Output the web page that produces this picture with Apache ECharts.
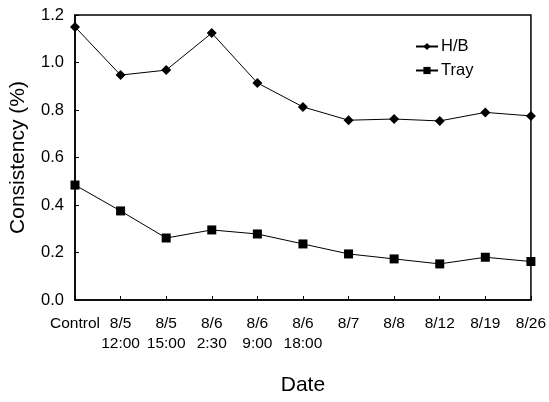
<!DOCTYPE html>
<html><head><meta charset="utf-8">
<script src="https://cdn.jsdelivr.net/npm/echarts@6/dist/echarts.min.js"></script>
<style>html,body{margin:0;padding:0;background:#fff}#c{width:549px;height:402px}</style>
</head><body><div id="c"></div>
<script>
const categories = ['Control','8/5\n12:00','8/5\n15:00','8/6\n2:30','8/6\n9:00','8/6\n18:00','8/7','8/8','8/12','8/19','8/26'];
const hbValues = [1.15,0.947,0.968,1.124,0.914,0.813,0.757,0.762,0.754,0.79,0.775];
const trayValues = [0.484,0.375,0.261,0.295,0.278,0.236,0.194,0.173,0.152,0.18,0.162];
const yTicks = ['0.0','0.2','0.4','0.6','0.8','1.0','1.2'];
const font = 'Liberation Sans, Arial, sans-serif';
const chart = echarts.init(document.getElementById('c'));
chart.setOption({
  animation:false,
  backgroundColor:'#fff',
  grid:{left:73,right:13,top:15,bottom:102,show:true,borderColor:'#000',borderWidth:1.5},
  legend:{
    left:410,top:33,orient:'vertical',itemGap:7,itemWidth:22,itemHeight:9,
    textStyle:{fontFamily:font,fontSize:16.5,color:'#000',padding:[0,0,0,-2]},
    data:['H/B','Tray']
  },
  xAxis:{
    type:'category',data:categories,boundaryGap:false,
    name:'Date',nameLocation:'middle',nameGap:75,
    nameTextStyle:{fontFamily:font,fontSize:21,color:'#000'},
    axisLine:{lineStyle:{color:'#000',width:1.5}},
    axisTick:{inside:true,length:4,lineStyle:{color:'#000'}},
    axisLabel:{fontFamily:font,fontSize:15.5,color:'#000',margin:14,lineHeight:20,interval:0,verticalAlign:'top'},
    splitLine:{show:false}
  },
  yAxis:{
    type:'value',min:0,max:1.2,interval:0.2,
    name:'Consistency (%)',nameLocation:'middle',nameGap:46,
    nameTextStyle:{fontFamily:font,fontSize:21,color:'#000'},
    axisLine:{show:true,lineStyle:{color:'#000',width:1.5}},
    axisTick:{show:true,inside:true,length:4,lineStyle:{color:'#000'}},
    axisLabel:{fontFamily:font,fontSize:16.5,color:'#000',margin:11,formatter:function(v){return yTicks[Math.round(v/0.2)];}},
    splitLine:{show:false}
  },
  series:[
    {name:'H/B',type:'line',data:hbValues,symbol:'diamond',symbolSize:10,
     itemStyle:{color:'#000'},lineStyle:{color:'#000',width:1}},
    {name:'Tray',type:'line',data:trayValues,symbol:'rect',symbolSize:9,
     itemStyle:{color:'#000'},lineStyle:{color:'#000',width:1}}
  ]
});
</script></body></html>
